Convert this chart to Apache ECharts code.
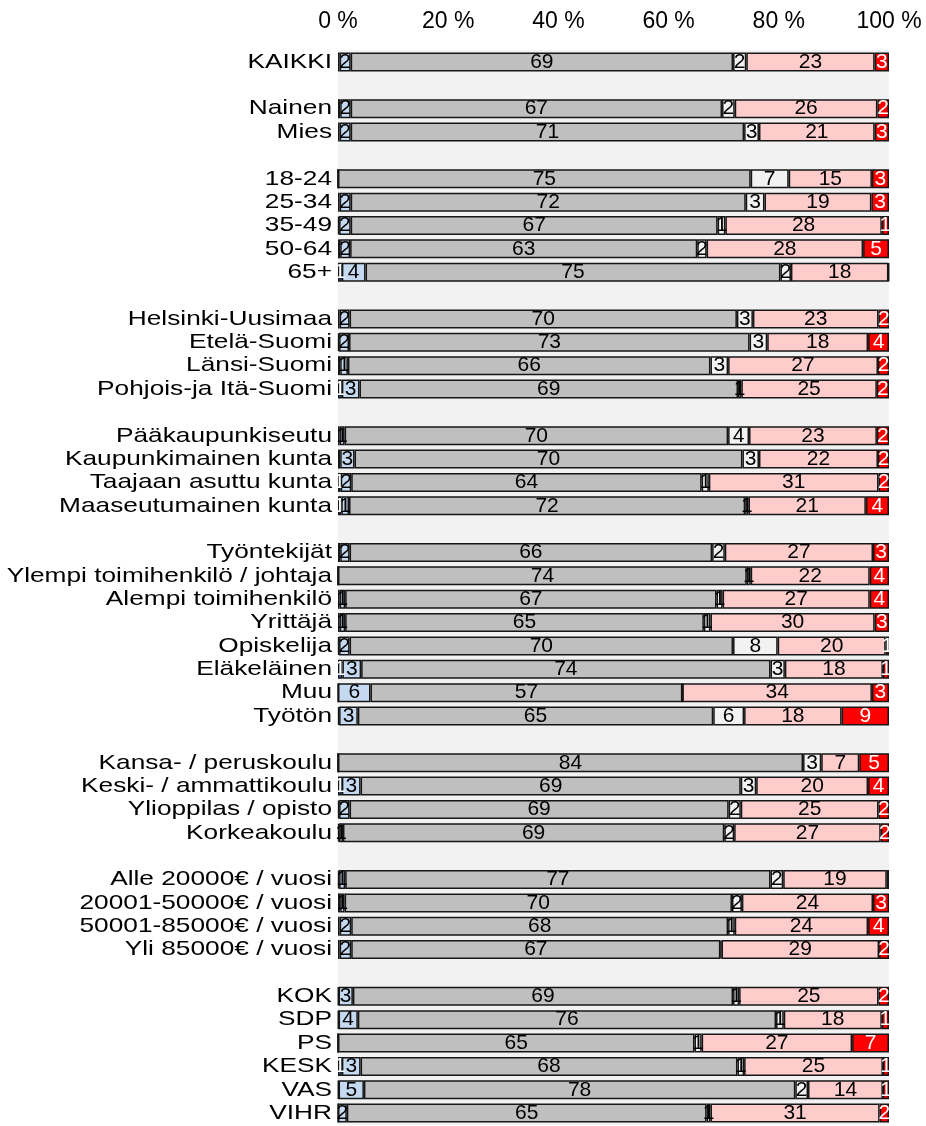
<!DOCTYPE html>
<html>
<head>
<meta charset="utf-8">
<script src="https://cdn.jsdelivr.net/npm/echarts@6/dist/echarts.min.js"></script>
<style>
  html, body { margin: 0; padding: 0; background: #ffffff; overflow: hidden; }
  #chart { width: 926px; height: 1126px; }
</style>
</head>
<body>
<div id="chart"></div>
<script>
// Row labels; empty strings are spacer rows between groups
const categories = [
  'KAIKKI', '',
  'Nainen', 'Mies', '',
  '18-24', '25-34', '35-49', '50-64', '65+', '',
  'Helsinki-Uusimaa', 'Etelä-Suomi', 'Länsi-Suomi', 'Pohjois-ja Itä-Suomi', '',
  'Pääkaupunkiseutu', 'Kaupunkimainen kunta', 'Taajaan asuttu kunta', 'Maaseutumainen kunta', '',
  'Työntekijät', 'Ylempi toimihenkilö / johtaja', 'Alempi toimihenkilö', 'Yrittäjä',
  'Opiskelija', 'Eläkeläinen', 'Muu', 'Työtön', '',
  'Kansa- / peruskoulu', 'Keski- / ammattikoulu', 'Ylioppilas / opisto', 'Korkeakoulu', '',
  'Alle 20000€ / vuosi', '20001-50000€ / vuosi', '50001-85000€ / vuosi', 'Yli 85000€ / vuosi', '',
  'KOK', 'SDP', 'PS', 'KESK', 'VAS', 'VIHR'
];

// Shares in percent, one value per row (null on spacer rows)
const blueDark = [
  0.3, null,
  0.4, 0.3, null,
  0, 0.3, 0.2, 0.4, 0.7, null,
  0.3, 0.2, 0.4, 0.7, null,
  0.3, 0.4, 0.5, 0.6, null,
  0.4, 0, 0.3, 0.3, 0.2, 0.8, 0, 0.2, null,
  0, 0.7, 0.2, 0.2, null,
  0.2, 0.4, 0.3, 0.3, null,
  0.1, 0.1, 0, 0.7, 0.1, 0
];
const blueLight = [
  2.0, null,
  1.9, 2.0, null,
  0, 2.0, 2.1, 1.8, 4.3, null,
  1.8, 1.8, 1.4, 3.2, null,
  0.9, 2.6, 1.9, 1.4, null,
  1.7, 0, 1.0, 1.0, 1.9, 3.4, 5.9, 3.4, null,
  0, 3.4, 1.9, 0.7, null,
  1.1, 0.8, 2.1, 2.1, null,
  2.6, 3.5, 0, 3.4, 4.6, 1.6
];
const grey = [
  69.4, null,
  67.4, 71.4, null,
  74.9, 71.7, 66.6, 63.0, 75.3, null,
  70.3, 72.7, 65.8, 68.7, null,
  69.6, 70.4, 63.6, 71.9, null,
  65.8, 74.2, 67.4, 65.1, 69.6, 74.3, 56.6, 64.5, null,
  84.4, 69.0, 68.8, 69.2, null,
  77.2, 70.3, 68.4, 67.0, null,
  69.0, 75.9, 64.7, 68.4, 78.3, 65.3
];
const white = [
  2.4, null,
  2.3, 2.7, null,
  6.9, 3.4, 1.4, 1.7, 1.9, null,
  2.9, 3.2, 3.2, 0.6, null,
  3.8, 3.0, 1.3, 0.6, null,
  2.3, 0.7, 1.1, 1.2, 8.1, 2.6, 0, 5.6, null,
  3.3, 2.8, 2.2, 1.8, null,
  2.3, 1.8, 1.2, 0.2, null,
  1.1, 1.4, 1.3, 1.2, 2.3, 0.7
];
const pink = [
  23.3, null,
  25.9, 21.0, null,
  15.1, 19.4, 28.4, 28.4, 17.7, null,
  22.8, 18.3, 27.2, 24.6, null,
  23.2, 21.6, 30.8, 21.3, null,
  26.9, 21.6, 26.7, 29.8, 19.6, 17.8, 34.4, 17.7, null,
  6.9, 20.3, 25.0, 26.6, null,
  18.8, 23.8, 24.2, 28.6, null,
  25.3, 17.8, 27.3, 25.2, 13.6, 30.7
];
const red = [
  2.6, null,
  2.1, 2.6, null,
  3.1, 3.2, 1.3, 4.7, 0.1, null,
  1.9, 3.8, 2.0, 2.2, null,
  2.2, 2.0, 1.9, 4.2, null,
  2.9, 3.5, 3.5, 2.6, 0.6, 1.1, 3.1, 8.6, null,
  5.4, 3.8, 1.9, 1.5, null,
  0.4, 2.9, 3.8, 1.8, null,
  1.9, 1.3, 6.7, 1.1, 1.1, 1.7
];

const xTicks = [0, 20, 40, 60, 80, 100];

const FONT = '"Liberation Sans", Arial, sans-serif';
const FS_CAT = 21;      // row labels
const CAT_WIDEN = 1.25; // row labels are set wide
const FS_TICK = 23;     // percent scale
const FS_BAR = 21;      // values inside segments

const GRID_LEFT = 338;

const segments = [
  { name: 'blueDark', data: blueDark, color: '#3f72c0', text: '#ffffff' },
  { name: 'blueLight', data: blueLight, color: '#c5d9f1', text: '#000000' },
  { name: 'grey', data: grey, color: '#bfbfbf', text: '#000000' },
  { name: 'white', data: white, color: '#f2f2f2', text: '#000000' },
  { name: 'pink', data: pink, color: '#ffcccc', text: '#000000' },
  { name: 'red', data: red, color: '#ff0000', text: '#ffffff' }
];

const chart = echarts.init(document.getElementById('chart'), null, { renderer: 'canvas' });

chart.setOption({
  animation: false,
  backgroundColor: '#ffffff',
  grid: {
    left: GRID_LEFT, right: 37, top: 50.3, bottom: 1.2,
    show: true, backgroundColor: '#f2f2f2', borderWidth: 0,
    containLabel: false
  },
  xAxis: {
    type: 'value',
    position: 'top',
    min: 0, max: 100, interval: 20,
    axisLine: { show: false },
    axisTick: { show: false },
    splitLine: { show: false },
    axisLabel: {
      margin: 17,
      fontFamily: FONT, fontSize: FS_TICK, color: '#000',
      formatter: v => xTicks.includes(v) ? v + ' %' : ''
    }
  },
  yAxis: {
    type: 'category',
    inverse: true,
    data: categories,
    axisLine: { show: false },
    axisTick: { show: false },
    splitLine: { show: false },
    axisLabel: { show: false }
  },
  series: segments.map(s => ({
    name: s.name,
    type: 'bar',
    stack: 'total',
    barWidth: 19,
    data: s.data,
    itemStyle: { color: s.color, borderColor: '#161616', borderWidth: 1.5 },
    label: {
      show: true,
      position: 'inside',
      fontFamily: FONT, fontSize: FS_BAR, color: s.text,
      formatter: p => {
        if (p.value == null) return '';
        const r = Math.round(p.value);
        return r > 0 ? String(r) : '';
      }
    },
    emphasis: { disabled: true }
  }))
});

// Row labels, placed at each category's position on the y axis and widened
const rowLabels = [];
categories.forEach((name, i) => {
  if (!name) return;
  const y = chart.convertToPixel({ yAxisIndex: 0 }, i);
  rowLabels.push({
    type: 'text',
    x: GRID_LEFT - 6,
    y: y,
    scaleX: CAT_WIDEN,
    silent: true,
    style: {
      text: name,
      font: FS_CAT + 'px ' + FONT,
      fill: '#000',
      align: 'right',
      verticalAlign: 'middle',
      textAlign: 'right',
      textVerticalAlign: 'middle'
    }
  });
});
chart.setOption({ graphic: rowLabels });
</script>
</body>
</html>
